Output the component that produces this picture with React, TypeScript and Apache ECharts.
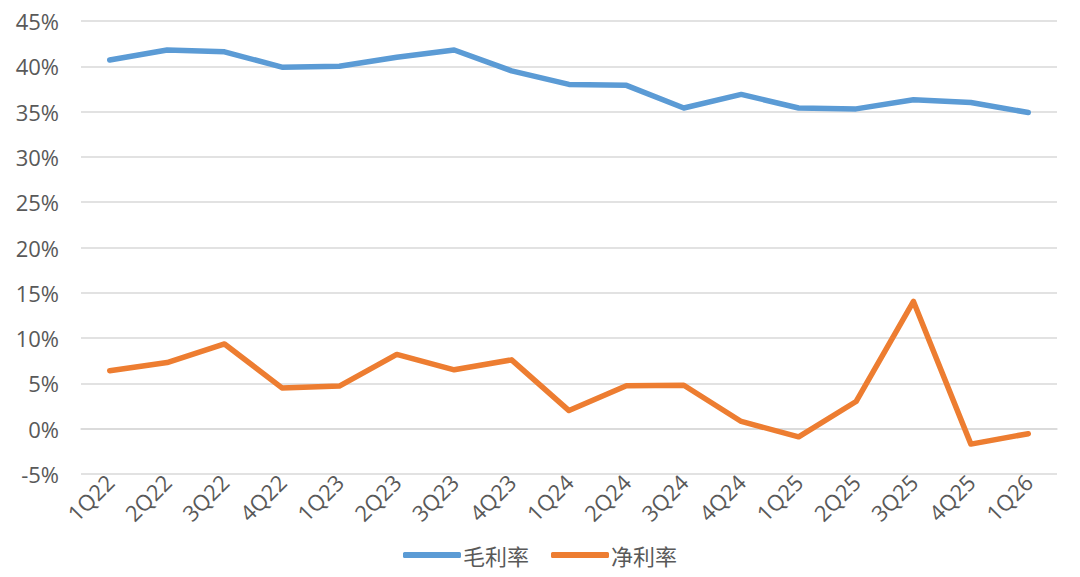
import React, { useEffect, useRef } from "react";
import * as echarts from "echarts";

const categories = ["1Q22", "2Q22", "3Q22", "4Q22", "1Q23", "2Q23", "3Q23", "4Q23", "1Q24", "2Q24", "3Q24", "4Q24", "1Q25", "2Q25", "3Q25", "4Q25", "1Q26"];
const grossMargin = [40.7, 41.8, 41.6, 39.9, 40.0, 41.0, 41.8, 39.5, 38.0, 37.9, 35.4, 36.9, 35.4, 35.3, 36.3, 36.0, 34.9];
const netMargin = [6.4, 7.3, 9.35, 4.5, 4.7, 8.2, 6.5, 7.6, 2.0, 4.75, 4.8, 0.8, -0.9, 3.0, 14.05, -1.7, -0.55];
const seriesNames = ["毛利率", "净利率"];
const yMin = -5;
const yMax = 45;
const yStep = 5;

const NUM_FONT = "'Open Sans', 'Noto Sans', sans-serif";
const CJK_FONT = "'Noto Sans CJK SC', sans-serif";
const TEXT = "#595959";

export default function App() {
  const ref = useRef<HTMLDivElement>(null);
  useEffect(() => {
    document.body.style.margin = "0";
    const chart = echarts.init(ref.current!, null, { renderer: "svg" });
    chart.setOption({
      animation: false,
      backgroundColor: "#ffffff",
      textStyle: { fontFamily: NUM_FONT },
      grid: { left: 81, right: 23, top: 21, bottom: 103, containLabel: false },
      legend: {
        bottom: 6,
        left: "center",
        itemWidth: 58,
        itemHeight: 6,
        itemGap: 22,
        icon: "roundRect",
        textStyle: { fontSize: 22, color: TEXT, fontFamily: CJK_FONT, padding: [0, 0, 0, -3] },
        data: seriesNames,
      },
      xAxis: {
        type: "category",
        data: categories,
        boundaryGap: true,
        axisLine: { show: true, lineStyle: { color: "#d9d9d9", width: 1.5 } },
        axisTick: { show: false },
        axisLabel: {
          rotate: 45,
          interval: 0,
          fontSize: 22,
          color: TEXT,
          fontFamily: NUM_FONT,
          margin: 4,
        },
      },
      yAxis: {
        type: "value",
        min: yMin,
        max: yMax,
        interval: yStep,
        axisLine: { show: false },
        axisTick: { show: false },
        splitLine: { lineStyle: { color: "#d9d9d9", width: 1.5 } },
        axisLabel: {
          formatter: "{value}%",
          fontSize: 22,
          color: TEXT,
          fontFamily: NUM_FONT,
          margin: 22,
        },
      },
      series: [
        {
          name: seriesNames[0],
          type: "line",
          data: grossMargin,
          symbol: "none",
          lineStyle: { color: "#5B9BD5", width: 5.5, cap: "round", join: "round" },
          itemStyle: { color: "#5B9BD5" },
        },
        {
          name: seriesNames[1],
          type: "line",
          data: netMargin,
          symbol: "none",
          lineStyle: { color: "#ED7D31", width: 5.5, cap: "round", join: "round" },
          itemStyle: { color: "#ED7D31" },
        },
      ],
    });
    return () => chart.dispose();
  }, []);
  return <div ref={ref} style={{ position: "absolute", left: 0, top: 0, width: 1080, height: 577 }} />;
}
